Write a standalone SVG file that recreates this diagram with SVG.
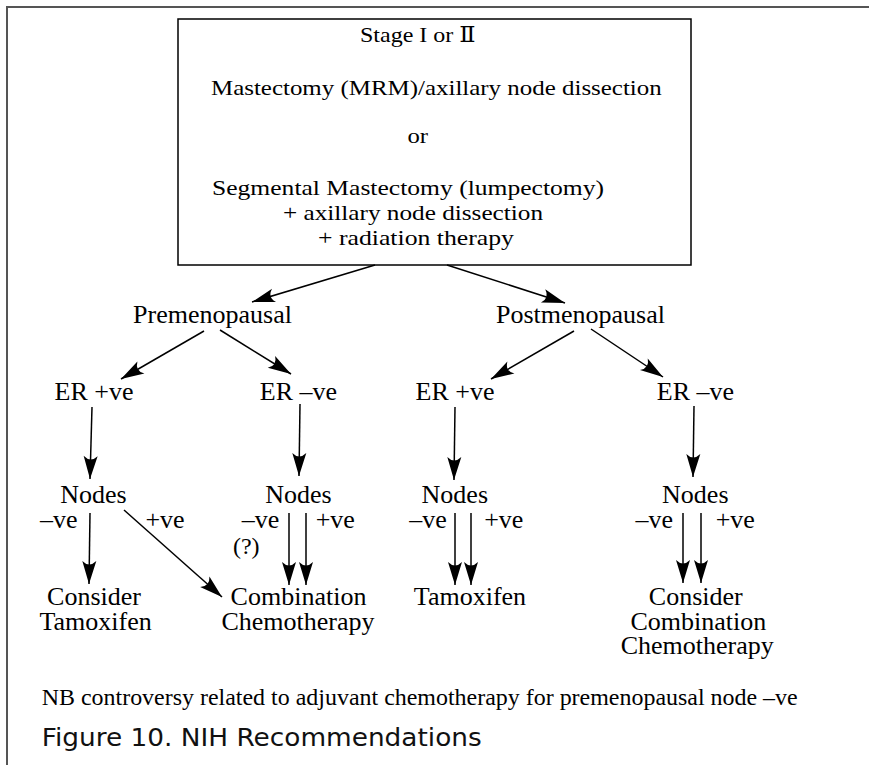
<svg xmlns="http://www.w3.org/2000/svg" width="869" height="765" viewBox="0 0 869 765">
<style>
  .frame { stroke: #555; stroke-width: 2; fill: none; }
  .box { fill: #fff; stroke: #000; stroke-width: 1.5; }
  .t { font-family: "Liberation Serif", "DejaVu Serif", serif; fill: #000; }
  .top { font-size: 22px; }
  .lab { font-size: 26px; text-anchor: middle; }
  .note { font-size: 23px; }
  .cap { font-family: "DejaVu Sans", "Liberation Sans", sans-serif; font-size: 24px; fill: #111; }
  .conn line { stroke: #000; stroke-width: 1.5; marker-end: url(#ah); }
</style>
<defs>
  <marker id="ah" markerUnits="userSpaceOnUse" viewBox="-25 -9 26 18" markerWidth="26" markerHeight="18" refX="0" refY="0" orient="auto">
    <path d="M0,0 L-23,-7 Q-16,0 -23,7 Z" fill="#000"/>
  </marker>
</defs>
<rect width="869" height="765" fill="#fff"/>
<path class="frame" d="M7,765 V7 H869"/>

<g id="stage-box">
  <rect class="box" x="178" y="19" width="513" height="246"/>
  <text class="t top" x="360" y="41.5" textLength="115.6" lengthAdjust="spacingAndGlyphs">Stage I or Ⅱ</text>
  <text class="t top" x="211" y="94.5" textLength="450.7" lengthAdjust="spacingAndGlyphs">Mastectomy (MRM)/axillary node dissection</text>
  <text class="t top" x="407.5" y="142.5" textLength="20.6" lengthAdjust="spacingAndGlyphs">or</text>
  <text class="t top" x="212" y="195" textLength="392" lengthAdjust="spacingAndGlyphs">Segmental Mastectomy (lumpectomy)</text>
  <text class="t top" x="283" y="220" textLength="260" lengthAdjust="spacingAndGlyphs">+ axillary node dissection</text>
  <text class="t top" x="318" y="245" textLength="196" lengthAdjust="spacingAndGlyphs">+ radiation therapy</text>
</g>

<g id="premenopausal"><text class="t lab" x="212.5" y="323">Premenopausal</text></g>
<g id="postmenopausal"><text class="t lab" x="580.5" y="323">Postmenopausal</text></g>

<g id="pre-er-pos"><text class="t lab" x="94" y="400">ER +ve</text></g>
<g id="pre-er-neg"><text class="t lab" x="298.5" y="400">ER –ve</text></g>
<g id="post-er-pos"><text class="t lab" x="455" y="400">ER +ve</text></g>
<g id="post-er-neg"><text class="t lab" x="695.5" y="400">ER –ve</text></g>

<g id="nodes-1">
  <text class="t lab" x="93.5" y="503">Nodes</text>
  <text class="t lab" x="58.7" y="528">–ve</text>
  <text class="t lab" x="165" y="528">+ve</text>
</g>
<g id="nodes-2">
  <text class="t lab" x="298.5" y="503">Nodes</text>
  <text class="t lab" x="260.5" y="528">–ve</text>
  <text class="t lab" x="335.3" y="528">+ve</text>
  <text class="t lab" x="246.3" y="554" style="font-size:24px">(?)</text>
</g>
<g id="nodes-3">
  <text class="t lab" x="454.8" y="503">Nodes</text>
  <text class="t lab" x="428" y="528">–ve</text>
  <text class="t lab" x="503.8" y="528">+ve</text>
</g>
<g id="nodes-4">
  <text class="t lab" x="695.3" y="503">Nodes</text>
  <text class="t lab" x="654.2" y="528">–ve</text>
  <text class="t lab" x="735.3" y="528">+ve</text>
</g>

<g id="consider-tamoxifen">
  <text class="t lab" x="94" y="605">Consider</text>
  <text class="t lab" x="95.6" y="630">Tamoxifen</text>
</g>
<g id="combination-chemo">
  <text class="t lab" x="298.5" y="605">Combination</text>
  <text class="t lab" x="298" y="630">Chemotherapy</text>
</g>
<g id="tamoxifen">
  <text class="t lab" x="470" y="605">Tamoxifen</text>
</g>
<g id="consider-combination-chemo">
  <text class="t lab" x="695.8" y="605">Consider</text>
  <text class="t lab" x="698.3" y="630">Combination</text>
  <text class="t lab" x="697.2" y="654">Chemotherapy</text>
</g>

<g id="connectors" class="conn">
  <line x1="375" y1="265" x2="252" y2="302"/>
  <line x1="447" y1="265" x2="565" y2="303"/>
  <line x1="204" y1="331" x2="121" y2="379"/>
  <line x1="220" y1="330" x2="291" y2="374"/>
  <line x1="574" y1="331" x2="491" y2="379"/>
  <line x1="591" y1="329" x2="663" y2="377"/>
  <line x1="92" y1="407" x2="90" y2="479"/>
  <line x1="300" y1="404" x2="299" y2="476"/>
  <line x1="455" y1="407" x2="454" y2="480"/>
  <line x1="694" y1="406" x2="693" y2="477"/>
  <line x1="90" y1="513" x2="89" y2="584"/>
  <line x1="124" y1="510" x2="222" y2="597"/>
  <line x1="289" y1="513" x2="289" y2="585"/>
  <line x1="306" y1="513" x2="306" y2="585"/>
  <line x1="455" y1="513" x2="455" y2="585"/>
  <line x1="471" y1="513" x2="471" y2="585"/>
  <line x1="683" y1="513" x2="683" y2="583"/>
  <line x1="701" y1="513" x2="701" y2="583"/>
</g>

<g id="note">
  <text class="t note" x="41.7" y="705" textLength="756" lengthAdjust="spacingAndGlyphs">NB controversy related to adjuvant chemotherapy for premenopausal node –ve</text>
</g>
<g id="caption">
  <text class="cap" x="41.7" y="746" textLength="440" lengthAdjust="spacingAndGlyphs">Figure 10. NIH Recommendations</text>
</g>
</svg>
